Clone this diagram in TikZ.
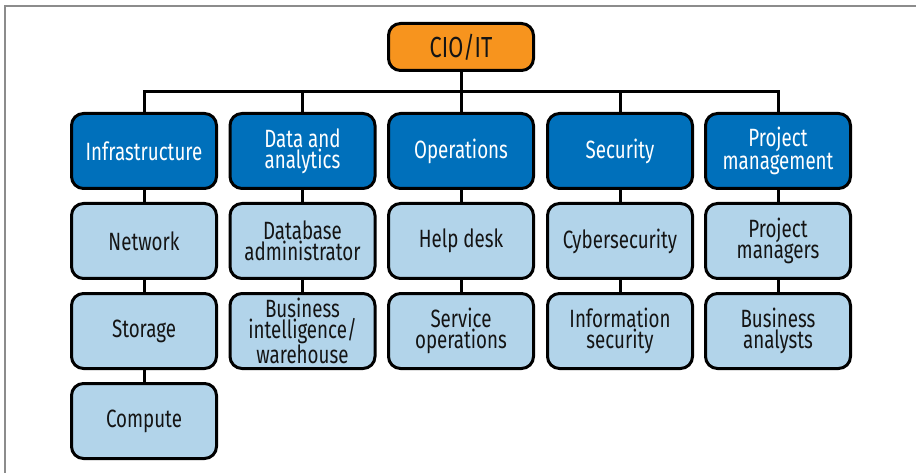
\documentclass[tikz,border=0pt]{standalone}
\usepackage{fontspec}
\setmainfont[FakeStretch=0.75]{Fira Sans}
\definecolor{cioorange}{RGB}{247,148,30}
\definecolor{deptblue}{RGB}{0,112,187}
\definecolor{rolblue}{RGB}{178,212,234}
\definecolor{framegray}{RGB}{140,140,140}
\definecolor{inkblack}{RGB}{20,20,20}
\tikzset{
  orgbox/.style={draw=black, line width=3pt, rounded corners=12pt,
    minimum width=145pt, minimum height=75pt, align=center, inner sep=2pt,
    font=\fontsize{25}{21}\selectfont},
  ciobox/.style={orgbox, fill=cioorange, text=inkblack, minimum height=47pt,
    font=\fontsize{29}{24}\selectfont},
  deptbox/.style={orgbox, fill=deptblue, text=white},
  rolebox/.style={orgbox, fill=rolblue, text=inkblack},
  link/.style={draw=black, line width=3pt}
}
\begin{document}
\begin{tikzpicture}[x=1pt, y=-1pt]
\useasboundingbox (0,0) rectangle (916,473);
% outer frame (top and left edges)
\draw[framegray, line width=2pt] (5,473) -- (5,6) -- (916,6);

% top of the hierarchy
\node[ciobox] (cio) at (461,47) {CIO/IT};

% departments
\node[deptbox] (infra) at (144,151) {Infrastructure};
\node[deptbox] (data)  at (302.5,151) {Data and\\analytics};
\node[deptbox] (ops)   at (461,151) {Operations};
\node[deptbox] (sec)   at (620,151) {Security};
\node[deptbox] (pm)    at (778,151) {Project\\management};

% roles
\node[rolebox] (net)   at (144,241) {Network};
\node[rolebox] (stor)  at (144,331) {Storage};
\node[rolebox] (comp)  at (144,421) {Compute};
\node[rolebox] (dba)   at (302.5,241) {Database\\administrator};
\node[rolebox] (bi)    at (302.5,331) {Business\\intelligence/\\warehouse};
\node[rolebox] (help)  at (461,241) {Help desk};
\node[rolebox] (svc)   at (461,331) {Service\\operations};
\node[rolebox] (cyber) at (620,241) {Cybersecurity};
\node[rolebox] (info)  at (620,331) {Information\\security};
\node[rolebox] (pmgr)  at (778,241) {Project\\managers};
\node[rolebox] (ba)    at (778,331) {Business\\analysts};

% bus from CIO to departments
\coordinate (bus) at (461,91.5);
\draw[link] (infra.north) -- (infra.north |- bus) -- (pm.north |- bus) -- (pm.north);
\draw[link] (cio.south) -- (ops.north);
\draw[link] (data.north) -- (data.north |- bus);
\draw[link] (sec.north) -- (sec.north |- bus);

% vertical links inside each column
\draw[link] (infra.south) -- (net.north);
\draw[link] (net.south) -- (stor.north);
\draw[link] (stor.south) -- (comp.north);
\draw[link] (data.south) -- (dba.north);
\draw[link] (dba.south) -- (bi.north);
\draw[link] (ops.south) -- (help.north);
\draw[link] (help.south) -- (svc.north);
\draw[link] (sec.south) -- (cyber.north);
\draw[link] (cyber.south) -- (info.north);
\draw[link] (pm.south) -- (pmgr.north);
\draw[link] (pmgr.south) -- (ba.north);
\end{tikzpicture}
\end{document}
